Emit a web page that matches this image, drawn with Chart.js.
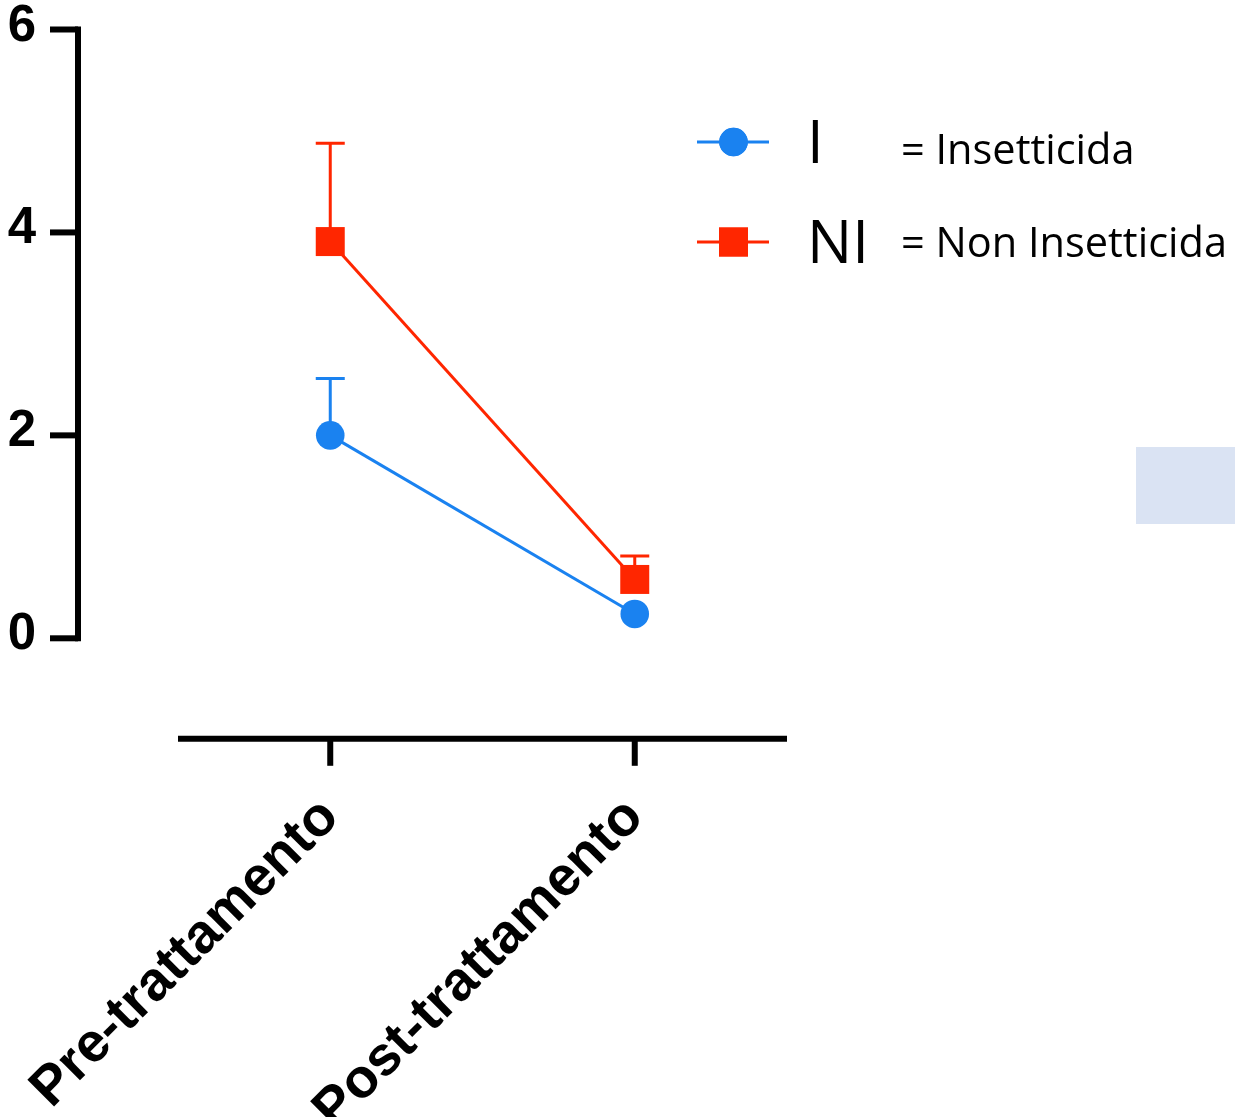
<!DOCTYPE html>
<html>
<head>
<meta charset="utf-8">
<script src="https://cdn.jsdelivr.net/npm/chart.js@4.4.0/dist/chart.umd.min.js"></script>
<style>
  html, body { margin: 0; padding: 0; background: #fff; }
</style>
</head>
<body>
<canvas id="chart" width="1235" height="1117"></canvas>
<script>
// --- data ---
const categories = ['Pre-trattamento', 'Post-trattamento'];
const insetticida = [2.0, 0.24];        // I
const insetticidaErr = [0.56, 0];       // upper error only
const nonInsetticida = [3.91, 0.58];    // NI
const nonInsetticidaErr = [0.97, 0.23];
const yTicks = [0, 2, 4, 6];

const BLUE = '#1a82f0';
const RED = '#ff2600';
const errors = [insetticidaErr, nonInsetticidaErr];

// error bars (up only), drawn under the markers
const errorBars = {
  id: 'errorBars',
  beforeDatasetsDraw(chart) {
    const ctx = chart.ctx;
    const x = chart.scales.x, y = chart.scales.y;
    chart.data.datasets.forEach((ds, di) => {
      ds.data.forEach((v, i) => {
        const e = errors[di][i];
        if (!e) return;
        const px = x.getPixelForValue(i);
        const py = y.getPixelForValue(v);
        const pt = y.getPixelForValue(v + e);
        ctx.save();
        ctx.strokeStyle = ds.borderColor;
        ctx.lineWidth = 3;
        ctx.beginPath();
        ctx.moveTo(px, py);
        ctx.lineTo(px, pt);
        ctx.moveTo(px - 14.5, pt);
        ctx.lineTo(px + 14.5, pt);
        ctx.stroke();
        ctx.restore();
      });
    });
  }
};

// detached axes like the Prism style, plus legend and the stray box
const decor = {
  id: 'decor',
  beforeDraw(chart) {
    const ctx = chart.ctx;
    ctx.save();
    ctx.fillStyle = '#dae3f3';
    ctx.fillRect(1136, 447, 99, 77);
    ctx.restore();
  },
  afterDraw(chart) {
    const ctx = chart.ctx;
    const x = chart.scales.x, y = chart.scales.y;
    const area = chart.chartArea;
    ctx.save();
    ctx.strokeStyle = '#000';
    ctx.lineWidth = 6;
    ctx.lineCap = 'butt';

    // y axis
    const axX = 78;
    ctx.beginPath();
    ctx.moveTo(axX, y.getPixelForValue(yTicks[yTicks.length - 1]) - 3);
    ctx.lineTo(axX, y.getPixelForValue(yTicks[0]) + 3);
    ctx.stroke();
    yTicks.forEach(v => {
      const py = y.getPixelForValue(v);
      ctx.beginPath();
      ctx.moveTo(50, py);
      ctx.lineTo(axX, py);
      ctx.stroke();
    });

    // x axis
    const axY = area.bottom + 100.5;
    ctx.beginPath();
    ctx.moveTo(area.left, axY);
    ctx.lineTo(area.right, axY);
    ctx.stroke();
    categories.forEach((c, i) => {
      const px = x.getPixelForValue(i);
      ctx.beginPath();
      ctx.moveTo(px, axY);
      ctx.lineTo(px, axY + 27);
      ctx.stroke();
    });

    // legend
    const rows = [
      { color: BLUE, style: 'circle', radius: 14.3, y: 142, key: 'I', keyBase: 162.7, text: '= Insetticida', textBase: 164 },
      { color: RED, style: 'rect', radius: 20.5, y: 242, key: 'NI', keyBase: 262.7, text: '= Non Insetticida', textBase: 257 }
    ];
    rows.forEach(r => {
      ctx.strokeStyle = r.color;
      ctx.lineWidth = 3;
      ctx.beginPath();
      ctx.moveTo(697, r.y);
      ctx.lineTo(769, r.y);
      ctx.stroke();
      ctx.fillStyle = r.color;
      Chart.helpers.drawPoint(ctx, { pointStyle: r.style, radius: r.radius, borderWidth: 0 }, 733.5, r.y);
      ctx.fill();
      ctx.fillStyle = '#000';
      ctx.textAlign = 'left';
      ctx.textBaseline = 'alphabetic';
      ctx.font = '60px "Open Sans"';
      ctx.fillText(r.key, 807, r.keyBase);
      ctx.font = '41.5px "Open Sans"';
      ctx.fillText(r.text, 901, r.textBase);
    });
    ctx.restore();
  }
};

new Chart(document.getElementById('chart'), {
  type: 'line',
  data: {
    labels: categories,
    datasets: [
      {
        label: 'I',
        data: insetticida,
        borderColor: BLUE,
        backgroundColor: BLUE,
        borderWidth: 3,
        pointStyle: 'circle',
        pointRadius: 14.3,
        pointBorderWidth: 0,
        pointBackgroundColor: BLUE,
        tension: 0,
        clip: false
      },
      {
        label: 'NI',
        data: nonInsetticida,
        borderColor: RED,
        backgroundColor: RED,
        borderWidth: 3,
        pointStyle: 'rect',
        pointRadius: 20.5,
        pointBorderWidth: 0,
        pointBackgroundColor: RED,
        tension: 0,
        clip: false
      }
    ]
  },
  options: {
    responsive: false,
    animation: false,
    devicePixelRatio: 1,
    layout: { padding: { top: 29.5, right: 448, left: 0, bottom: 0 } },
    plugins: {
      legend: { display: false },
      tooltip: { enabled: false }
    },
    scales: {
      x: {
        type: 'category',
        offset: true,
        grid: { display: false },
        border: { display: false },
        ticks: {
          autoSkip: false,
          minRotation: 45,
          maxRotation: 45,
          padding: 139,
          color: '#000',
          font: { family: '"Liberation Sans", Arial, sans-serif', weight: 'bold', size: 55 }
        },
        afterFit: s => { s.height = 478.7; s.paddingLeft = 0; s.paddingRight = 0; }
      },
      y: {
        min: 0,
        max: 6,
        afterBuildTicks: s => { s.ticks = yTicks.map(v => ({ value: v })); },
        grid: { display: false },
        border: { display: false },
        ticks: {
          padding: 134,
          labelOffset: -3,
          color: '#000',
          font: { family: '"Liberation Sans", Arial, sans-serif', weight: 'bold', size: 51 }
        },
        afterFit: s => { s.width = 178; s.paddingTop = 0; s.paddingBottom = 0; }
      }
    }
  },
  plugins: [errorBars, decor]
});
</script>
</body>
</html>
